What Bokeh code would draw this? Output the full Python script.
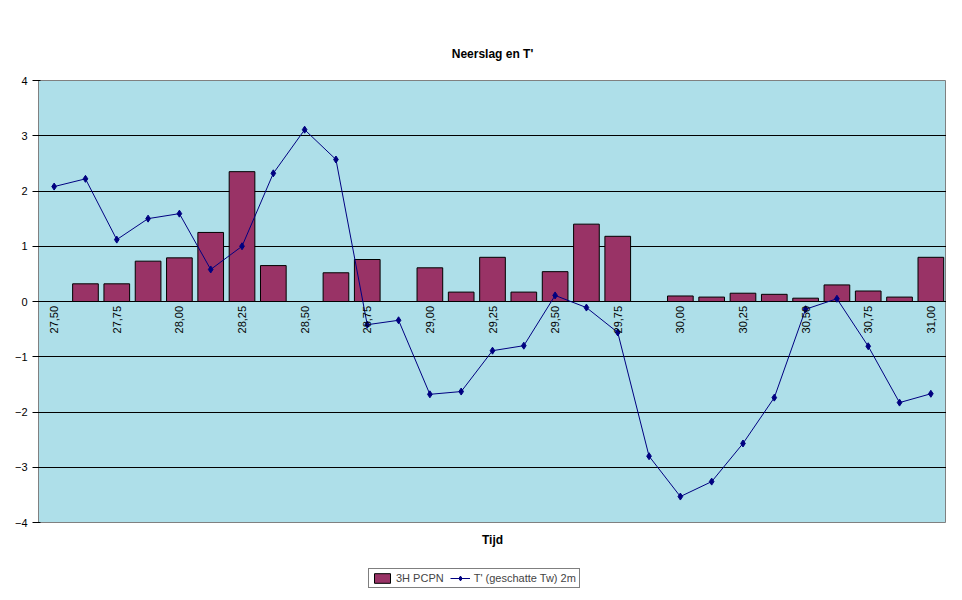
import math
from bokeh.plotting import figure
from bokeh.layouts import column
from bokeh.models import ColumnDataSource, Legend, LegendItem, FixedTicker
from bokeh.core.properties import value
from bokeh.embed import file_html
from bokeh.resources import INLINE

tijd = ["27,50", "27,63", "27,75", "27,88", "28,00", "28,13", "28,25", "28,38", "28,50", "28,63",
        "28,75", "28,88", "29,00", "29,13", "29,25", "29,38", "29,50", "29,63", "29,75", "29,88",
        "30,00", "30,13", "30,25", "30,38", "30,50", "30,63", "30,75", "30,88", "31,00"]
pcpn = [0, 0.32, 0.32, 0.73, 0.79, 1.25, 2.35, 0.65, 0, 0.52, 0.76, 0, 0.61, 0.17, 0.8, 0.17,
        0.54, 1.4, 1.18, 0, 0.1, 0.08, 0.15, 0.13, 0.06, 0.3, 0.19, 0.08, 0.8]
tw = [2.08, 2.22, 1.12, 1.5, 1.59, 0.58, 1.0, 2.32, 3.11, 2.57, -0.42, -0.34, -1.68, -1.63, -0.89,
      -0.8, 0.11, -0.11, -0.56, -2.8, -3.53, -3.26, -2.57, -1.74, -0.14, 0.05, -0.81, -1.83, -1.67]

idx = list(range(len(tijd)))
src = ColumnDataSource(dict(x=idx, pcpn=pcpn, tw=tw))

p = figure(width=946, height=552, output_backend="svg", toolbar_location=None,
           x_range=(-0.5, len(tijd) - 0.5), y_range=(-4, 4),
           min_border_left=38, min_border_right=0, min_border_top=80, min_border_bottom=30)
p.title.text = "Neerslag en T'"
p.title.align = "center"
p.title.text_font = "Arial"
p.title.text_font_size = "12px"
p.title.text_font_style = "bold"
p.title.text_color = "black"
p.title.standoff = 40
p.background_fill_color = "#aedfe9"
p.border_fill_color = "white"
p.outline_line_color = "#808080"

p.xgrid.visible = False
p.ygrid.grid_line_color = "black"
p.yaxis.ticker = FixedTicker(ticks=[-4, -3, -2, -1, 0, 1, 2, 3, 4])
p.yaxis.minor_tick_line_color = None
p.yaxis.major_label_text_font = "Arial"
p.yaxis.major_label_text_font_size = "11px"
p.yaxis.major_label_text_color = "black"
p.yaxis.axis_line_color = "#808080"

p.xaxis.ticker = FixedTicker(ticks=[])
p.xaxis.minor_tick_line_color = None
p.xaxis.axis_line_color = None
p.xaxis.axis_label = "Tijd"
p.xaxis.axis_label_text_font = "Arial"
p.xaxis.axis_label_text_font_size = "12px"
p.xaxis.axis_label_text_font_style = "bold"
p.xaxis.axis_label_text_color = "black"
p.xaxis.axis_label_standoff = 10

p.vbar(x="x", top="pcpn", width=0.82, source=src, fill_color="#993366", line_color="black")
p.line("x", "tw", source=src, line_color="#000080", line_width=1)
p.scatter("x", "tw", source=src, marker="diamond", size=7, fill_color="#000080", line_color="#000080")

lab = ColumnDataSource(dict(x=idx[::2], t=tijd[::2], y=[-0.08] * len(idx[::2])))
p.text("x", "y", text="t", source=lab, angle=math.pi / 2, text_align="right", text_baseline="middle",
       text_font=value("Arial"), text_font_size="11px", text_color="black")

# legend in a small strip below the chart (glyphs drawn off-range, only their swatches show)
lg = figure(width=946, height=48, output_backend="svg", toolbar_location=None,
            x_range=(0, 1), y_range=(0, 1), min_border=0)
lg.axis.visible = False
lg.grid.visible = False
lg.outline_line_color = None
off = ColumnDataSource(dict(x=[5, 6], y=[5, 6]))
b = lg.vbar(x="x", top="y", bottom=4, width=0.5, source=off, fill_color="#993366", line_color="black")
l = lg.line("x", "y", source=off, line_color="#000080")
s = lg.scatter("x", "y", source=off, marker="diamond", size=7, fill_color="#000080", line_color="#000080")
leg = Legend(items=[LegendItem(label="3H PCPN", renderers=[b]),
                    LegendItem(label="T' (geschatte Tw) 2m", renderers=[l, s])],
             orientation="horizontal", border_line_color="black", location=(330, 12),
             label_text_font="Arial", label_text_font_size="11px", padding=3, spacing=6,
             glyph_width=20, glyph_height=12, label_standoff=4, margin=0)
lg.add_layout(leg, "center")

open("out.html", "w").write(file_html(column(p, lg, spacing=0), INLINE))
